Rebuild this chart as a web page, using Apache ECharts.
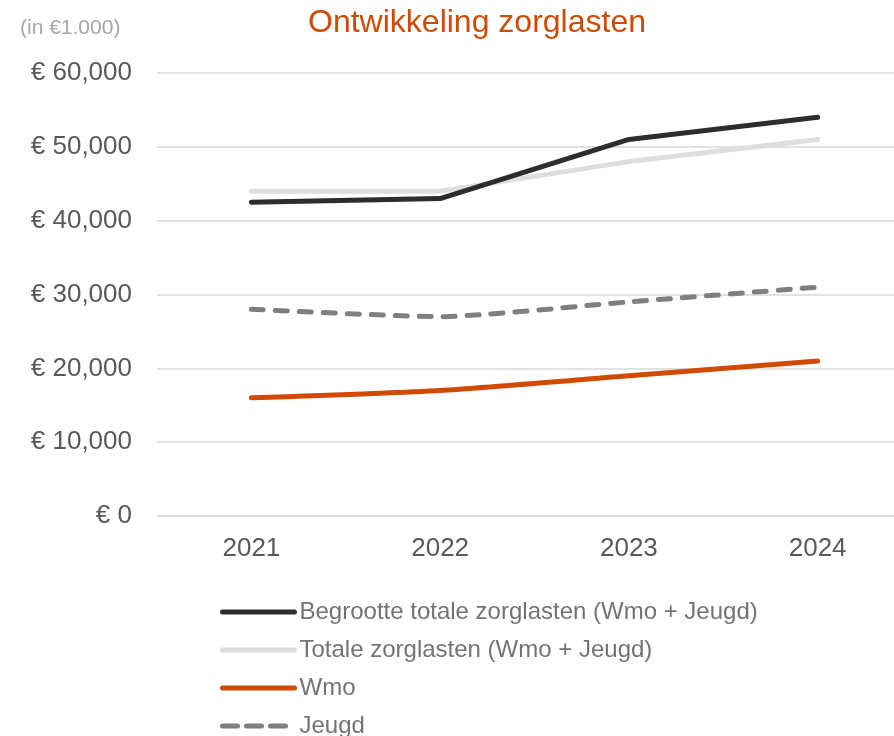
<!DOCTYPE html>
<html>
<head>
    <meta charset="utf-8">
    <script src="https://cdn.jsdelivr.net/npm/echarts@6/dist/echarts.min.js"></script>
</head>
<body style="margin:0">
<div id="main" style="width: 894px;height:736px;"></div>
<script type="text/javascript">
    // data
    var years = ['2021', '2022', '2023', '2024'];
    var begroot = [42500, 43000, 51000, 54000];
    var totaal = [44000, 44000, 48000, 51000];
    var wmo = [16000, 17000, 19000, 21000];
    var jeugd = [28000, 27000, 29000, 31000];

    var myChart = echarts.init(document.getElementById('main'));

    var fmt = function (v) {
        return '€ ' + (v === 0 ? '0' : v.toLocaleString('en-US'));
    };

    var option = {
        textStyle: { fontFamily: 'Liberation Sans, Arial, sans-serif' },
        title: [
            {
                text: 'Ontwikkeling zorglasten',
                left: 472, top: 2, textAlign: 'center',
                textStyle: { color: '#d04a02', fontSize: 32, fontWeight: 'normal', fontFamily: 'Liberation Sans' }
            },
            {
                text: '(in €1.000)',
                left: 15, top: 13,
                textStyle: { color: '#a6a6a6', fontSize: 21, fontWeight: 'normal', fontFamily: 'Liberation Sans' }
            }
        ],
        legend: {
            orient: 'vertical',
            left: 220, top: 600, height: 170,
            padding: 0,
            itemWidth: 72, itemHeight: 14,
            itemGap: 14,
            itemStyle: { opacity: 0 },
            lineStyle: { width: 5, cap: 'round' },
            textStyle: { color: '#737373', fontSize: 24, fontFamily: 'Liberation Sans' },
            data: [
                'Begrootte totale zorglasten (Wmo + Jeugd)',
                'Totale zorglasten (Wmo + Jeugd)',
                'Wmo',
                { name: 'Jeugd', lineStyle: { type: [15, 9], width: 5, cap: 'round' } }
            ]
        },
        grid: { left: 157, width: 755, top: 73, bottom: 220, outerBoundsMode: 'none' },
        xAxis: {
            type: 'category',
            data: years,
            axisLine: { lineStyle: { color: '#d9d9d9', width: 1.5 } },
            axisTick: { show: false },
            axisLabel: { color: '#595959', fontSize: 26, margin: 20, fontFamily: 'Liberation Sans' }
        },
        yAxis: {
            type: 'value',
            min: 0, max: 60000, interval: 10000,
            axisLine: { show: false },
            axisTick: { show: false },
            splitLine: { lineStyle: { color: '#d9d9d9', width: 1.5 } },
            axisLabel: { color: '#595959', fontSize: 26, margin: 25, formatter: fmt, fontFamily: 'Liberation Sans' }
        },
        series: [
            {
                name: 'Begrootte totale zorglasten (Wmo + Jeugd)', type: 'line', data: begroot,
                symbol: 'none', z: 4,
                lineStyle: { color: '#2d2d2d', width: 5, cap: 'round' },
                itemStyle: { color: '#2d2d2d' }
            },
            {
                name: 'Totale zorglasten (Wmo + Jeugd)', type: 'line', data: totaal,
                symbol: 'none', z: 3,
                lineStyle: { color: '#dedede', width: 5, cap: 'round' },
                itemStyle: { color: '#dedede' }
            },
            {
                name: 'Wmo', type: 'line', data: wmo,
                symbol: 'none', smooth: 0.2,
                lineStyle: { color: '#d04a02', width: 5, cap: 'round' },
                itemStyle: { color: '#d04a02' }
            },
            {
                name: 'Jeugd', type: 'line', data: jeugd,
                symbol: 'none', smooth: 0.2,
                lineStyle: { color: '#7f7f7f', width: 5, type: [12, 12], cap: 'round' },
                itemStyle: { color: '#7f7f7f' }
            }
        ]
    };

    myChart.setOption(option);
</script>
</body>
</html>
